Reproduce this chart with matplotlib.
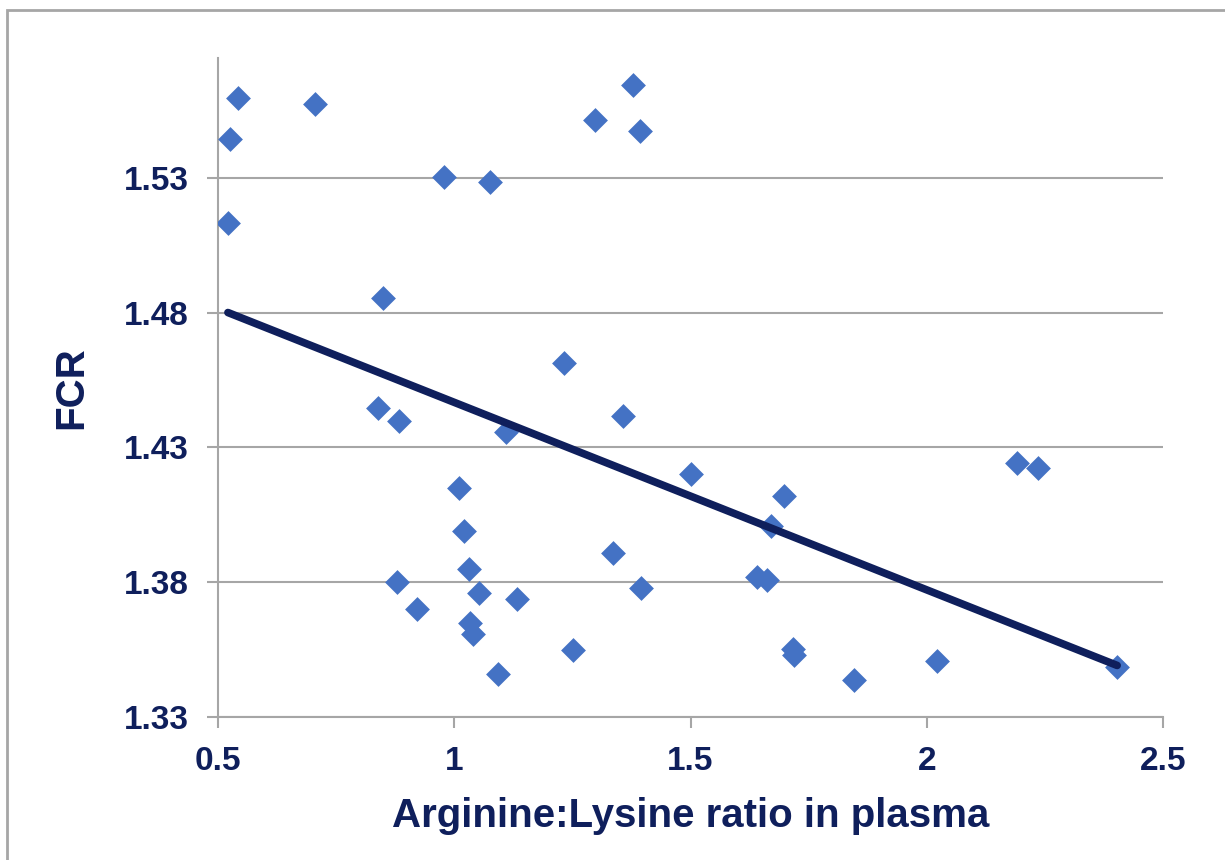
import numpy as np
import matplotlib
matplotlib.use("Agg")
import matplotlib.pyplot as plt
from matplotlib.patches import Rectangle

# Arginine:Lysine ratio vs FCR
ratio = [0.542, 0.525, 0.521, 0.705, 0.978, 1.076, 1.298, 1.378, 1.393, 0.849,
         0.839, 0.883, 1.232, 1.357, 1.110, 1.010, 1.021, 1.501, 1.698, 1.670,
         2.191, 2.235, 1.336, 1.031, 0.879, 0.921, 1.052, 1.133, 1.395, 1.641,
         1.662, 1.033, 1.040, 1.093, 1.251, 1.717, 1.719, 1.846, 2.022, 2.403]
fcr = [1.5596, 1.5444, 1.5133, 1.5574, 1.5304, 1.5285, 1.5515, 1.5644, 1.5474, 1.4856,
       1.4448, 1.4400, 1.4615, 1.4415, 1.4356, 1.4148, 1.3989, 1.4200, 1.4119, 1.4007,
       1.4241, 1.4222, 1.3907, 1.3848, 1.3800, 1.3700, 1.3759, 1.3737, 1.3778, 1.3819,
       1.3807, 1.3648, 1.3607, 1.3459, 1.3548, 1.3552, 1.3530, 1.3437, 1.3507, 1.3485]

x_ticks = [0.5, 1, 1.5, 2, 2.5]
x_labels = ["0.5", "1", "1.5", "2", "2.5"]
y_ticks = [1.33, 1.38, 1.43, 1.48, 1.53]
y_labels = ["1.33", "1.38", "1.43", "1.48", "1.53"]

navy = "#0f1f5c"
blue = "#4472c4"
gray = "#a6a6a6"

plt.rcParams['font.family'] = ['Liberation Sans', 'DejaVu Sans']

fig = plt.figure(figsize=(12.25, 8.6), dpi=100)
ax = fig.add_axes([218 / 1225, 1 - 717 / 860, (1163 - 218) / 1225, (717 - 58) / 860])

# outer frame (only top/left visible in the reference)
fig.patches.append(Rectangle((7 / 1225, -0.1), 1.2, 1 - 10 / 860 + 0.1,
                             transform=fig.transFigure, fill=False,
                             edgecolor=gray, lw=2))

ax.scatter(ratio, fcr, marker="D", s=160, color=blue, zorder=3, linewidths=0)

# linear trend line across the data range
k, b = np.polyfit(ratio, fcr, 1)
xs = np.array([min(ratio), max(ratio)])
ax.plot(xs, k * xs + b, color=navy, lw=5.5, solid_capstyle="round", zorder=4)

ax.set_xlim(0.5, 2.5)
ax.set_ylim(1.33, 1.5745)
ax.set_xticks(x_ticks)
ax.set_xticklabels(x_labels)
ax.set_yticks(y_ticks)
ax.set_yticklabels(y_labels)
ax.grid(axis="y", color=gray, lw=1.5)
ax.set_axisbelow(True)

for side in ["top", "right"]:
    ax.spines[side].set_visible(False)
for side in ["left", "bottom"]:
    ax.spines[side].set_color(gray)
    ax.spines[side].set_linewidth(1.5)

ax.tick_params(axis="both", colors=gray, length=8, width=1.5, labelcolor=navy,
               labelsize=24)
ax.tick_params(axis="y", pad=13)
ax.tick_params(axis="x", pad=13)
for lab in ax.get_xticklabels() + ax.get_yticklabels():
    lab.set_fontweight("bold")

ax.set_xlabel("Arginine:Lysine ratio in plasma", fontsize=29, fontweight="bold",
              color=navy, labelpad=14)
ax.set_ylabel("FCR", fontsize=29, fontweight="bold", color=navy, labelpad=24)

fig.savefig("out.png", dpi=100)
